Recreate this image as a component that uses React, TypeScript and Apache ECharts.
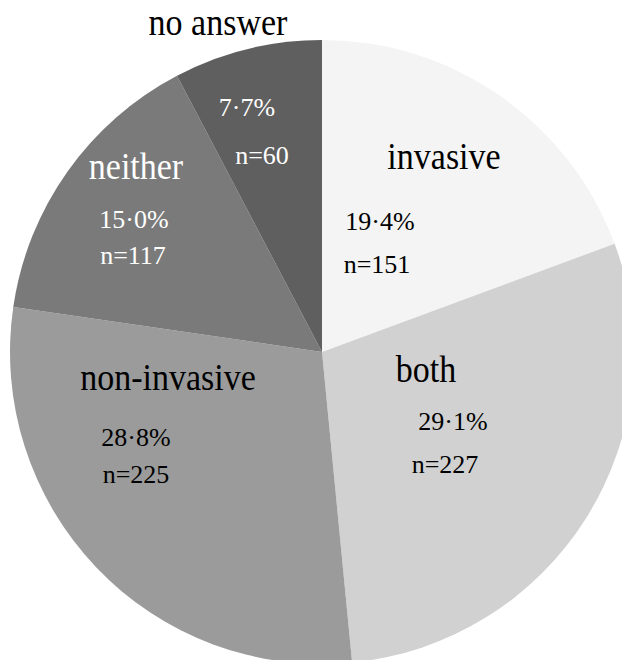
import React, { useEffect, useRef } from "react";
import * as echarts from "echarts";

const categories = ["invasive", "both", "non-invasive", "neither", "no answer"];
const counts = [151, 227, 225, 117, 60];
const sliceColors = ["#f3f4f3", "#d0d1d0", "#9b9b9b", "#7a7a7a", "#5f5f5f"];
const textColors = ["#000", "#000", "#000", "#fff", "#fff"];

// label anchors, as offsets from the pie centre
const nameOffsets = [[122, -196], [104, 17], [-154, 25], [-186, -186], [-104, -330]];
const pctOffsets = [[58, -131], [131, 69], [-186, 85], [-188, -133], [-75, -245]];
const nOffsets = [[55, -88], [123, 112], [-186, 122], [-189, -97], [-60, -197]];

const CX = 322;
const CY = 352;
const R = 312;

export default function App() {
  const ref = useRef<HTMLDivElement>(null);

  useEffect(() => {
    document.body.style.margin = "0";
    const chart = echarts.init(ref.current!, undefined, { renderer: "svg" });
    const total = counts.reduce((a, b) => a + b, 0);
    const font = "'Liberation Serif', 'Times New Roman', serif";

    const graphics: any[] = [];
    categories.forEach((name, i) => {
      const pct = ((counts[i] / total) * 100).toFixed(1).replace(".", "·") + "%";
      const nameColor = i === 4 ? "#000" : textColors[i];
      graphics.push({
        type: "text",
        z: 100,
        x: CX + nameOffsets[i][0],
        y: CY + nameOffsets[i][1],
        scaleY: 1.1,
        style: {
          text: name,
          fill: nameColor,
          font: `34px ${font}`,
          textAlign: "center",
          textVerticalAlign: "middle",
        },
      });
      graphics.push({
        type: "text",
        z: 100,
        x: CX + pctOffsets[i][0],
        y: CY + pctOffsets[i][1],
        style: {
          text: pct,
          fill: textColors[i],
          font: `26px ${font}`,
          textAlign: "center",
          textVerticalAlign: "middle",
        },
      });
      graphics.push({
        type: "text",
        z: 100,
        x: CX + nOffsets[i][0],
        y: CY + nOffsets[i][1],
        style: {
          text: "n=" + counts[i],
          fill: textColors[i],
          font: `26px ${font}`,
          textAlign: "center",
          textVerticalAlign: "middle",
        },
      });
    });

    chart.setOption({
      animation: false,
      backgroundColor: "#fff",
      series: [
        {
          type: "pie",
          z: 1,
          center: [CX, CY],
          radius: [0, R],
          startAngle: 90,
          clockwise: true,
          label: { show: false },
          labelLine: { show: false },
          emphasis: { disabled: true },
          data: categories.map((name, i) => ({
            name,
            value: counts[i],
            itemStyle: { color: sliceColors[i] },
          })),
        },
      ],
      graphic: { elements: graphics, z: 100 },
    });

    return () => chart.dispose();
  }, []);

  return <div ref={ref} style={{ width: 622, height: 660 }} />;
}
